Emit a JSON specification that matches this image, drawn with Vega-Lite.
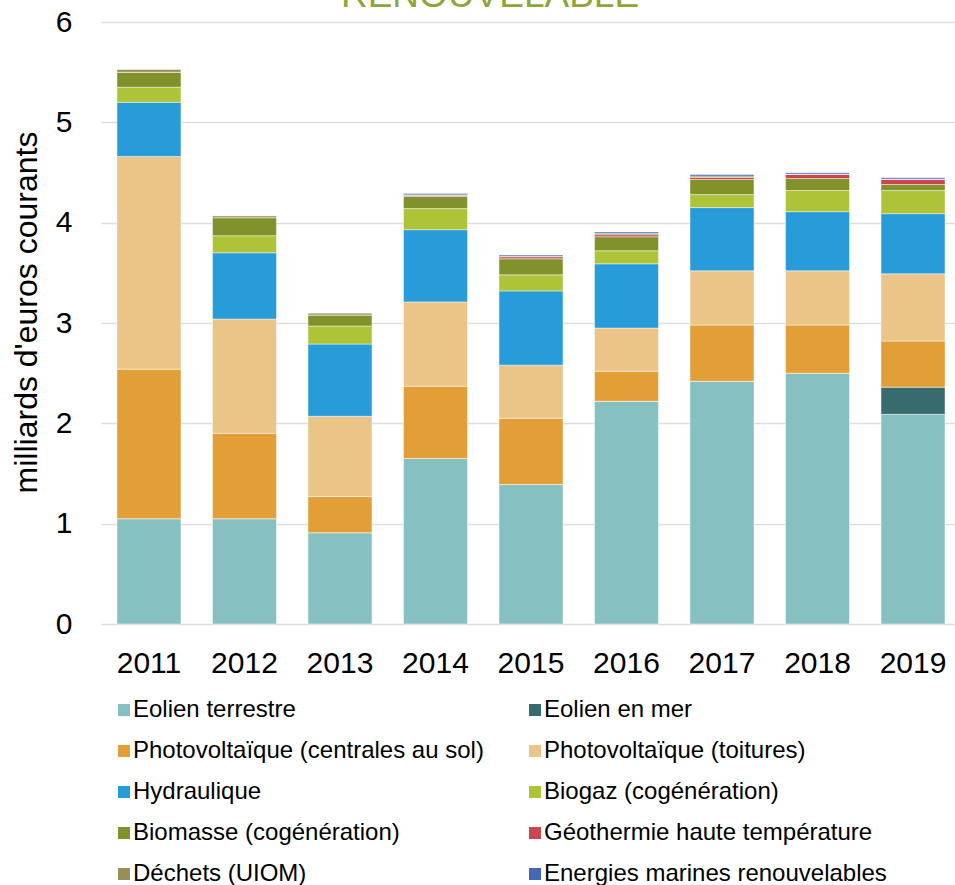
{
  "$schema": "https://vega.github.io/schema/vega-lite/v6.json",
  "autosize": {"type": "none"},
  "padding": {"left": 101, "top": 22, "right": 0, "bottom": 261},
  "width": 854,
  "height": 602,
  "background": "white",
  "title": {
    "text": "RENOUVELABLE",
    "fontSize": 37,
    "font": "Liberation Sans",
    "fontWeight": "normal",
    "color": "#8FA53A",
    "anchor": "middle",
    "baseline": "alphabetic",
    "offset": -6,
    "dy": 31,
    "dx": -38
  },
  "config": {
    "view": {"stroke": null},
    "font": "Liberation Sans"
  },
  "data": {
    "values": [
      {"annee": "2011", "filiere": "Eolien terrestre", "valeur": 1.05},
      {"annee": "2011", "filiere": "Eolien en mer", "valeur": 0},
      {"annee": "2011", "filiere": "Photovoltaïque (centrales au sol)", "valeur": 1.49},
      {"annee": "2011", "filiere": "Photovoltaïque (toitures)", "valeur": 2.12},
      {"annee": "2011", "filiere": "Hydraulique", "valeur": 0.54},
      {"annee": "2011", "filiere": "Biogaz (cogénération)", "valeur": 0.15},
      {"annee": "2011", "filiere": "Biomasse (cogénération)", "valeur": 0.15},
      {"annee": "2011", "filiere": "Géothermie haute température", "valeur": 0},
      {"annee": "2011", "filiere": "Déchets (UIOM)", "valeur": 0.03},
      {"annee": "2011", "filiere": "Energies marines renouvelables", "valeur": 0},

      {"annee": "2012", "filiere": "Eolien terrestre", "valeur": 1.05},
      {"annee": "2012", "filiere": "Eolien en mer", "valeur": 0},
      {"annee": "2012", "filiere": "Photovoltaïque (centrales au sol)", "valeur": 0.85},
      {"annee": "2012", "filiere": "Photovoltaïque (toitures)", "valeur": 1.14},
      {"annee": "2012", "filiere": "Hydraulique", "valeur": 0.66},
      {"annee": "2012", "filiere": "Biogaz (cogénération)", "valeur": 0.17},
      {"annee": "2012", "filiere": "Biomasse (cogénération)", "valeur": 0.18},
      {"annee": "2012", "filiere": "Géothermie haute température", "valeur": 0},
      {"annee": "2012", "filiere": "Déchets (UIOM)", "valeur": 0.02},
      {"annee": "2012", "filiere": "Energies marines renouvelables", "valeur": 0},

      {"annee": "2013", "filiere": "Eolien terrestre", "valeur": 0.91},
      {"annee": "2013", "filiere": "Eolien en mer", "valeur": 0},
      {"annee": "2013", "filiere": "Photovoltaïque (centrales au sol)", "valeur": 0.36},
      {"annee": "2013", "filiere": "Photovoltaïque (toitures)", "valeur": 0.80},
      {"annee": "2013", "filiere": "Hydraulique", "valeur": 0.72},
      {"annee": "2013", "filiere": "Biogaz (cogénération)", "valeur": 0.18},
      {"annee": "2013", "filiere": "Biomasse (cogénération)", "valeur": 0.11},
      {"annee": "2013", "filiere": "Géothermie haute température", "valeur": 0},
      {"annee": "2013", "filiere": "Déchets (UIOM)", "valeur": 0.02},
      {"annee": "2013", "filiere": "Energies marines renouvelables", "valeur": 0},

      {"annee": "2014", "filiere": "Eolien terrestre", "valeur": 1.65},
      {"annee": "2014", "filiere": "Eolien en mer", "valeur": 0},
      {"annee": "2014", "filiere": "Photovoltaïque (centrales au sol)", "valeur": 0.72},
      {"annee": "2014", "filiere": "Photovoltaïque (toitures)", "valeur": 0.84},
      {"annee": "2014", "filiere": "Hydraulique", "valeur": 0.72},
      {"annee": "2014", "filiere": "Biogaz (cogénération)", "valeur": 0.21},
      {"annee": "2014", "filiere": "Biomasse (cogénération)", "valeur": 0.12},
      {"annee": "2014", "filiere": "Géothermie haute température", "valeur": 0.012},
      {"annee": "2014", "filiere": "Déchets (UIOM)", "valeur": 0.005},
      {"annee": "2014", "filiere": "Energies marines renouvelables", "valeur": 0.013},

      {"annee": "2015", "filiere": "Eolien terrestre", "valeur": 1.39},
      {"annee": "2015", "filiere": "Eolien en mer", "valeur": 0},
      {"annee": "2015", "filiere": "Photovoltaïque (centrales au sol)", "valeur": 0.66},
      {"annee": "2015", "filiere": "Photovoltaïque (toitures)", "valeur": 0.53},
      {"annee": "2015", "filiere": "Hydraulique", "valeur": 0.74},
      {"annee": "2015", "filiere": "Biogaz (cogénération)", "valeur": 0.16},
      {"annee": "2015", "filiere": "Biomasse (cogénération)", "valeur": 0.16},
      {"annee": "2015", "filiere": "Géothermie haute température", "valeur": 0.02},
      {"annee": "2015", "filiere": "Déchets (UIOM)", "valeur": 0.005},
      {"annee": "2015", "filiere": "Energies marines renouvelables", "valeur": 0.012},

      {"annee": "2016", "filiere": "Eolien terrestre", "valeur": 2.22},
      {"annee": "2016", "filiere": "Eolien en mer", "valeur": 0},
      {"annee": "2016", "filiere": "Photovoltaïque (centrales au sol)", "valeur": 0.30},
      {"annee": "2016", "filiere": "Photovoltaïque (toitures)", "valeur": 0.43},
      {"annee": "2016", "filiere": "Hydraulique", "valeur": 0.64},
      {"annee": "2016", "filiere": "Biogaz (cogénération)", "valeur": 0.13},
      {"annee": "2016", "filiere": "Biomasse (cogénération)", "valeur": 0.14},
      {"annee": "2016", "filiere": "Géothermie haute température", "valeur": 0.02},
      {"annee": "2016", "filiere": "Déchets (UIOM)", "valeur": 0.012},
      {"annee": "2016", "filiere": "Energies marines renouvelables", "valeur": 0.014},

      {"annee": "2017", "filiere": "Eolien terrestre", "valeur": 2.42},
      {"annee": "2017", "filiere": "Eolien en mer", "valeur": 0},
      {"annee": "2017", "filiere": "Photovoltaïque (centrales au sol)", "valeur": 0.56},
      {"annee": "2017", "filiere": "Photovoltaïque (toitures)", "valeur": 0.54},
      {"annee": "2017", "filiere": "Hydraulique", "valeur": 0.63},
      {"annee": "2017", "filiere": "Biogaz (cogénération)", "valeur": 0.13},
      {"annee": "2017", "filiere": "Biomasse (cogénération)", "valeur": 0.15},
      {"annee": "2017", "filiere": "Géothermie haute température", "valeur": 0.02},
      {"annee": "2017", "filiere": "Déchets (UIOM)", "valeur": 0.015},
      {"annee": "2017", "filiere": "Energies marines renouvelables", "valeur": 0.015},

      {"annee": "2018", "filiere": "Eolien terrestre", "valeur": 2.50},
      {"annee": "2018", "filiere": "Eolien en mer", "valeur": 0},
      {"annee": "2018", "filiere": "Photovoltaïque (centrales au sol)", "valeur": 0.48},
      {"annee": "2018", "filiere": "Photovoltaïque (toitures)", "valeur": 0.54},
      {"annee": "2018", "filiere": "Hydraulique", "valeur": 0.59},
      {"annee": "2018", "filiere": "Biogaz (cogénération)", "valeur": 0.21},
      {"annee": "2018", "filiere": "Biomasse (cogénération)", "valeur": 0.12},
      {"annee": "2018", "filiere": "Géothermie haute température", "valeur": 0.04},
      {"annee": "2018", "filiere": "Déchets (UIOM)", "valeur": 0.005},
      {"annee": "2018", "filiere": "Energies marines renouvelables", "valeur": 0.013},

      {"annee": "2019", "filiere": "Eolien terrestre", "valeur": 2.09},
      {"annee": "2019", "filiere": "Eolien en mer", "valeur": 0.27},
      {"annee": "2019", "filiere": "Photovoltaïque (centrales au sol)", "valeur": 0.46},
      {"annee": "2019", "filiere": "Photovoltaïque (toitures)", "valeur": 0.67},
      {"annee": "2019", "filiere": "Hydraulique", "valeur": 0.60},
      {"annee": "2019", "filiere": "Biogaz (cogénération)", "valeur": 0.23},
      {"annee": "2019", "filiere": "Biomasse (cogénération)", "valeur": 0.06},
      {"annee": "2019", "filiere": "Géothermie haute température", "valeur": 0.05},
      {"annee": "2019", "filiere": "Déchets (UIOM)", "valeur": 0.004},
      {"annee": "2019", "filiere": "Energies marines renouvelables", "valeur": 0.014}
    ]
  },
  "transform": [
    {"calculate": "indexof(['Eolien terrestre','Eolien en mer','Photovoltaïque (centrales au sol)','Photovoltaïque (toitures)','Hydraulique','Biogaz (cogénération)','Biomasse (cogénération)','Géothermie haute température','Déchets (UIOM)','Energies marines renouvelables'], datum.filiere)", "as": "rang"}
  ],
  "mark": {"type": "bar", "stroke": "white", "strokeWidth": 0.75, "strokeOpacity": 0.6},
  "encoding": {
    "x": {
      "field": "annee",
      "type": "ordinal",
      "scale": {"paddingInner": 0.33, "paddingOuter": 0.136, "align": 0.615},
      "axis": {
        "title": null,
        "labelAngle": 0,
        "labelFontSize": 30,
        "labelColor": "#000000",
        "labelPadding": 24,
        "domain": false,
        "ticks": false,
        "grid": false
      }
    },
    "y": {
      "field": "valeur",
      "type": "quantitative",
      "aggregate": "sum",
      "stack": "zero",
      "scale": {"domain": [0, 6], "nice": false},
      "axis": {
        "title": "milliards d'euros courants",
        "titleFontSize": 32,
        "titleFontWeight": "normal",
        "titleColor": "#000000",
        "titlePadding": 12,
        "titleY": 290,
        "values": [0, 1, 2, 3, 4, 5, 6],
        "labelFontSize": 30,
        "labelColor": "#000000",
        "labelPadding": 29,
        "domain": false,
        "ticks": false,
        "grid": true,
        "gridColor": "#DEDEDE",
        "gridWidth": 1.6
      }
    },
    "order": {"field": "rang", "type": "quantitative", "aggregate": "min", "sort": "ascending"},
    "color": {
      "field": "filiere",
      "type": "nominal",
      "scale": {
        "domain": [
          "Eolien terrestre",
          "Eolien en mer",
          "Photovoltaïque (centrales au sol)",
          "Photovoltaïque (toitures)",
          "Hydraulique",
          "Biogaz (cogénération)",
          "Biomasse (cogénération)",
          "Géothermie haute température",
          "Déchets (UIOM)",
          "Energies marines renouvelables"
        ],
        "range": ["#87C0C1", "#376B6D", "#E29E37", "#EBC488", "#289BD9", "#AEC338", "#81912B", "#CB4650", "#978E58", "#4468B3"]
      },
      "legend": {
        "title": null,
        "orient": "none",
        "direction": "horizontal",
        "legendX": 11,
        "legendY": 676,
        "columns": 2,
        "columnPadding": 39,
        "rowPadding": 17,
        "symbolType": "square",
        "symbolSize": 144,
        "symbolStrokeWidth": 0,
        "symbolOpacity": 1,
        "labelFontSize": 24,
        "labelColor": "#000000",
        "labelOffset": -3,
        "labelLimit": 500,
        "padding": 0
      }
    }
  }
}
